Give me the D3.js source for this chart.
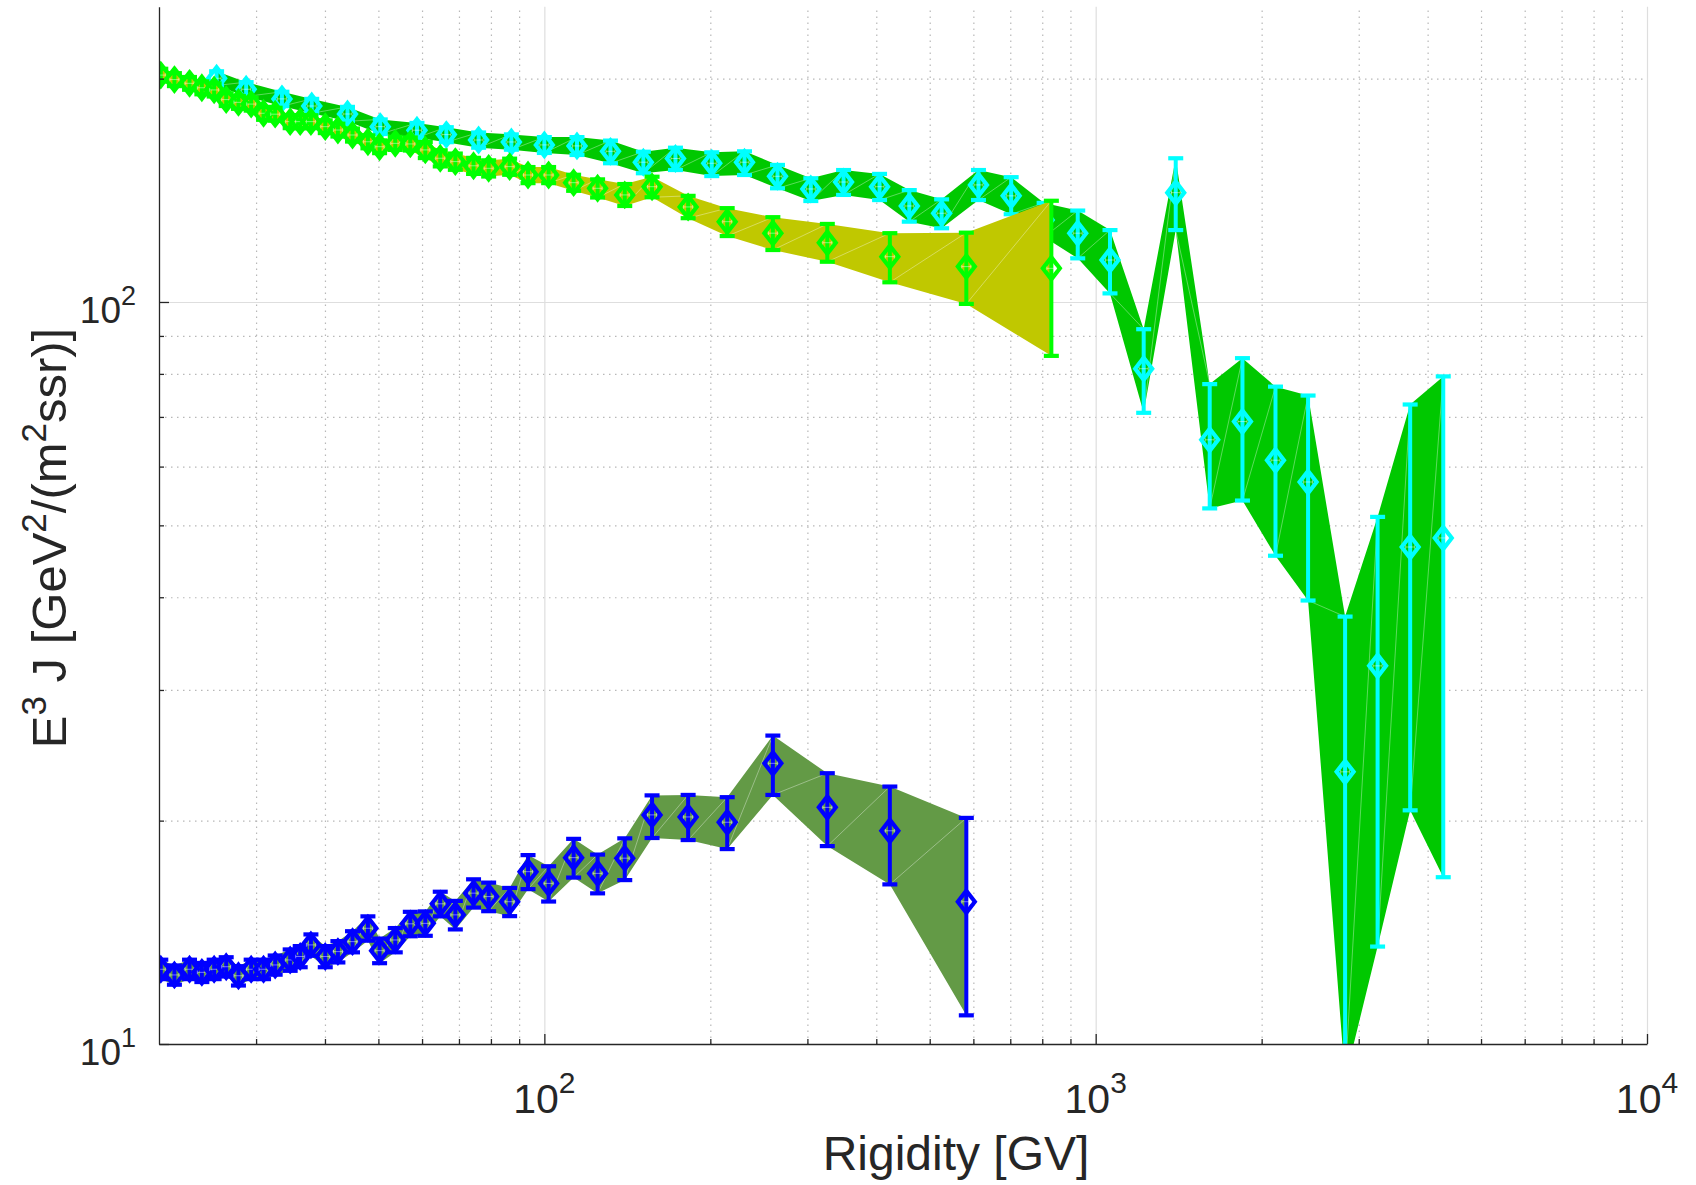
<!DOCTYPE html>
<meta charset="utf-8">
<style>
    body { margin: 0; background: #fff; }
    svg { font-family: 'Liberation Sans', Arial, Helvetica, sans-serif; }
    .grid path { display: none; }
    .grid-major line { stroke: #dedede; stroke-width: 1.2; }
    .grid-minor line { stroke: #b8b8b8; stroke-width: 1.2; stroke-dasharray: 1.5, 4.5; }
    .axis path, .axis line { stroke: #262626; stroke-width: 1.3; }
    .lbl { fill: #262626; }
</style>
<body>
<svg id="chart" width="1696" height="1185"></svg>
<script src="https://d3js.org/d3.v7.min.js"></script>
<script>

// ---- data ----
// rigidity bins shared by the blue and green series [GV]
var binsR = [20.15, 21.33, 22.72, 23.92, 25.18, 26.48, 27.87, 29.39, 30.95, 32.49,
    34.59, 36.07, 37.72, 40.05, 42.22, 44.88, 47.86, 50.25, 53.65, 57.13,
    60.82, 64.74, 68.95, 74.40, 79.24, 86.50, 93.41, 101.8, 113.0, 124.9,
    139.9, 156.8, 182.3, 214.6, 259.7, 326.0, 423.3, 582.6];

// green markers / yellow band
var greenR = binsR.concat([831]);
var greenY = [202.2, 199.4, 197.1, 194.4, 193.1, 187.4, 185.8, 184.8, 179.6, 179.1,
    175.0, 175.0, 175.0, 172.3, 170.5, 167.9, 164.4, 161.9, 163.6, 163.3,
    160.3, 156.2, 154.6, 152.6, 151.4, 152.2, 148.3, 148.3, 144.8, 142.3,
    139.4, 143.0, 134.3, 128.3, 123.8, 120.2, 115.1, 111.6, 111.0];
var greenLo = [4.0, 4.0, 3.9, 3.9, 3.9, 3.7, 3.7, 3.7, 3.6, 3.6,
    3.5, 3.5, 3.5, 3.4, 3.4, 3.4, 3.3, 3.2, 3.3, 3.3,
    4.0, 3.9, 3.9, 3.8, 3.8, 3.8, 3.7, 3.7, 3.6, 4.0,
    4.7, 4.6, 4.6, 5.6, 6.3, 6.9, 8.8, 12.2, 26.4];
var greenHi = [4.0, 4.0, 3.9, 3.9, 3.9, 3.7, 3.7, 3.7, 3.6, 3.6,
    3.5, 3.5, 3.5, 3.4, 3.4, 3.4, 3.3, 3.2, 3.3, 3.3,
    4.0, 3.9, 3.9, 3.8, 3.8, 3.8, 3.7, 3.7, 3.6, 4.0,
    4.8, 4.5, 4.7, 5.5, 6.3, 7.2, 8.7, 12.4, 25.9];

// blue markers / olive band
var blueR = binsR;
var blueY = [12.61, 12.39, 12.61, 12.49, 12.61, 12.71, 12.36, 12.61, 12.61, 12.78,
    12.98, 13.12, 13.60, 13.12, 13.32, 13.74, 14.32, 13.36, 13.81, 14.52,
    14.54, 15.45, 14.93, 15.97, 15.80, 15.55, 17.07, 16.46, 17.83, 16.98,
    17.80, 20.36, 20.23, 19.90, 23.89, 20.84, 19.38, 15.55];
var blueLo = [0.38, 0.37, 0.38, 0.37, 0.38, 0.38, 0.37, 0.38, 0.38, 0.38,
    0.43, 0.43, 0.45, 0.43, 0.44, 0.45, 0.54, 0.51, 0.52, 0.55,
    0.55, 0.59, 0.66, 0.70, 0.70, 0.68, 0.90, 0.90, 1.07, 1.02,
    1.17, 1.41, 1.40, 1.59, 2.23, 2.36, 2.97, 4.62];
var blueHi = [0.38, 0.37, 0.38, 0.37, 0.38, 0.38, 0.37, 0.38, 0.38, 0.38,
    0.43, 0.43, 0.45, 0.43, 0.44, 0.45, 0.54, 0.51, 0.52, 0.55,
    0.55, 0.59, 0.66, 0.70, 0.70, 0.68, 0.90, 0.90, 1.07, 1.02,
    1.13, 1.27, 1.43, 1.61, 2.15, 2.33, 2.85, 4.62];

// cyan markers / green band
var cyanR = [25.44, 28.78, 33.42, 37.85, 43.95, 50.39, 58.74, 66.40, 75.99, 87.13,
    100.0, 114.6, 131.8, 151.2, 172.9, 201.2, 230.7, 264.8, 304.3, 348.9,
    405.5, 459.1, 525.5, 612.9, 702.6, 806.3, 927.8, 1061.6, 1222, 1397,
    1610, 1846, 2119, 2428, 2834, 3246, 3719, 4270];
var cyanY = [200.2, 193.5, 187.8, 183.7, 179.2, 172.3, 170.4, 168.1, 165.3, 164.3,
    162.8, 162.3, 159.6, 154.3, 156.1, 153.8, 154.3, 147.7, 142.0, 145.1,
    143.0, 134.7, 131.7, 143.8, 139.0, 129.0, 123.8, 113.9, 81.3, 140.4,
    65.2, 69.0, 61.2, 57.2, 23.27, 32.33, 46.75, 48.08];
var cyanLo = [4.4, 4.3, 4.2, 4.1, 4.0, 3.9, 3.9, 3.9, 3.9, 3.9,
    4.0, 4.5, 5.8, 5.2, 5.5, 6.0, 6.0, 5.4, 5.2, 5.7,
    5.8, 6.4, 6.0, 6.6, 7.7, 6.7, 9.3, 11.2, 10.4, 15.4,
    12.5, 15.0, 15.7, 17.6, 14.3, 18.8, 26.1, 31.3];
var cyanHi = [4.4, 4.3, 4.2, 4.1, 4.0, 3.9, 3.9, 3.9, 3.9, 3.9,
    4.0, 4.5, 5.4, 5.1, 5.3, 5.3, 5.3, 5.3, 4.8, 5.5,
    5.8, 6.8, 5.8, 6.8, 8.3, 7.0, 9.0, 11.1, 10.6, 15.8,
    12.3, 15.0, 15.7, 17.6, 14.4, 19.0, 26.0, 31.3];

// axis ticks
var xMajor = [100, 1000, 10000];
var xMinor = [30, 40, 50, 60, 70, 80, 90, 200, 300, 400, 500, 600, 700, 800, 900,
    2000, 3000, 4000, 5000, 6000, 7000, 8000, 9000];
var yMajor = [10, 100];
var yMinor = [20, 30, 40, 50, 60, 70, 80, 90, 200];

// ---- layout ----
var svg = d3.select("#chart");
var pLeft = 159, pRight = 1647, pBottom = 1044, pTop = 6.7;

var x = d3.scaleLog().domain([20, 10000]).range([pLeft, pRight]);
var y = d3.scaleLog().domain([10, 250]).range([pBottom, pTop]);

svg.append("defs").append("clipPath").attr("id", "plotclip")
    .append("rect").attr("x", pLeft).attr("y", 0)
    .attr("width", pRight - pLeft).attr("height", pBottom);

// grid
svg.append("g").attr("class", "grid grid-minor")
    .attr("transform", "translate(0," + pBottom + ")")
    .call(d3.axisBottom(x).tickValues(xMinor).tickSize(-(pBottom - pTop)).tickFormat(""));
svg.append("g").attr("class", "grid grid-minor")
    .attr("transform", "translate(" + pLeft + ",0)")
    .call(d3.axisLeft(y).tickValues(yMinor).tickSize(-(pRight - pLeft)).tickFormat(""));
svg.append("g").attr("class", "grid grid-major")
    .attr("transform", "translate(0," + pBottom + ")")
    .call(d3.axisBottom(x).tickValues(xMajor).tickSize(-(pBottom - pTop)).tickFormat(""));
svg.append("g").attr("class", "grid grid-major")
    .attr("transform", "translate(" + pLeft + ",0)")
    .call(d3.axisLeft(y).tickValues([100]).tickSize(-(pRight - pLeft)).tickFormat(""));

var plot = svg.append("g").attr("clip-path", "url(#plotclip)");

function drawSeries(xs, ys, lo, hi, color, bandColor) {
    var pts = xs.map(function (d, i) {
        return { r: d, v: ys[i], lo: ys[i] - lo[i], hi: ys[i] + hi[i] };
    });
    var g = plot.append("g");

    // error band
    var area = d3.area()
        .x(function (d) { return x(d.r); })
        .y0(function (d) { return y(d.lo); })
        .y1(function (d) { return y(d.hi); });
    g.append("path").attr("d", area(pts)).attr("fill", bandColor);

    // faint triangle edges of the patch
    for (var i = 0; i < pts.length - 1; i++) {
        g.append("line")
            .attr("x1", x(pts[i].r)).attr("y1", y(pts[i].lo))
            .attr("x2", x(pts[i + 1].r)).attr("y2", y(pts[i + 1].hi))
            .attr("stroke", "#fff").attr("stroke-opacity", 0.45).attr("stroke-width", 0.8);
    }

    // error bars
    var eb = g.selectAll(".eb").data(pts).enter().append("g");
    eb.append("line")
        .attr("x1", function (d) { return x(d.r); })
        .attr("x2", function (d) { return x(d.r); })
        .attr("y1", function (d) { return y(d.lo); })
        .attr("y2", function (d) { return y(d.hi); })
        .attr("stroke", color).attr("stroke-width", 4);
    ["lo", "hi"].forEach(function (k) {
        eb.append("line")
            .attr("x1", function (d) { return x(d.r) - 7.5; })
            .attr("x2", function (d) { return x(d.r) + 7.5; })
            .attr("y1", function (d) { return y(d[k]); })
            .attr("y2", function (d) { return y(d[k]); })
            .attr("stroke", color).attr("stroke-width", 4.2);
    });

    // diamond markers
    var mk = g.selectAll(".mk").data(pts).enter().append("g")
        .attr("transform", function (d) { return "translate(" + x(d.r) + "," + y(d.v) + ")"; });
    mk.append("path").attr("d", "M0,-11L8.5,0L0,11L-8.5,0Z")
        .attr("fill", "none").attr("stroke", color).attr("stroke-width", 4.2);
    mk.append("path").attr("d", "M-4.5,0H4.5M-4.5,-1.8V1.8M4.5,-1.8V1.8")
        .attr("stroke", "#fff").attr("stroke-opacity", 0.5).attr("stroke-width", 0.9);
}

drawSeries(cyanR, cyanY, cyanLo, cyanHi, "#00ffff", "#00c800");
drawSeries(greenR, greenY, greenLo, greenHi, "#00ff00", "#c0c800");
drawSeries(blueR, blueY, blueLo, blueHi, "#0000ff", "#639a46");

// axes (ticks point inwards)
var xAx = svg.append("g").attr("class", "axis").attr("transform", "translate(0," + pBottom + ")");
xAx.call(d3.axisBottom(x).tickValues(xMinor).tickSize(-5).tickSizeOuter(0).tickFormat(""));
xAx.append("g").call(d3.axisBottom(x).tickValues(xMajor).tickSize(-10).tickSizeOuter(0).tickFormat(""))
    .select(".domain").remove();

var yAx = svg.append("g").attr("class", "axis").attr("transform", "translate(" + pLeft + ",0)");
yAx.call(d3.axisLeft(y).tickValues(yMinor).tickSize(-5).tickSizeOuter(0).tickFormat(""));
yAx.append("g").call(d3.axisLeft(y).tickValues(yMajor).tickSize(-10).tickSizeOuter(0).tickFormat(""))
    .select(".domain").remove();

// tick labels 10^n
svg.selectAll(".xlab").data(xMajor).enter().append("text")
    .attr("class", "lbl")
    .attr("x", function (d) { return x(d); })
    .attr("y", 1113)
    .attr("text-anchor", "middle")
    .style("font-size", "41px")
    .each(function (d) {
        var t = d3.select(this);
        t.append("tspan").text("10");
        t.append("tspan").attr("dy", -20).style("font-size", "30px").text(Math.round(Math.log10(d)));
    });

svg.selectAll(".ylab").data(yMajor).enter().append("text")
    .attr("class", "lbl")
    .attr("x", 136)
    .attr("y", function (d) { return y(d) + 21; })
    .attr("text-anchor", "end")
    .style("font-size", "37px")
    .each(function (d) {
        var t = d3.select(this);
        t.append("tspan").text("10");
        t.append("tspan").attr("dy", -18).style("font-size", "27px").text(Math.round(Math.log10(d)));
    });

// axis titles
svg.append("text").attr("class", "lbl")
    .attr("x", 956).attr("y", 1170)
    .attr("text-anchor", "middle")
    .style("font-size", "48px")
    .text("Rigidity [GV]");

var yt = svg.append("text").attr("class", "lbl")
    .attr("transform", "translate(66,538) rotate(-90)")
    .attr("text-anchor", "middle")
    .style("font-size", "49px");
yt.append("tspan").text("E");
yt.append("tspan").attr("dy", -20).style("font-size", "35px").text("3");
yt.append("tspan").attr("dy", 20).text(" J [GeV");
yt.append("tspan").attr("dy", -20).style("font-size", "35px").text("2");
yt.append("tspan").attr("dy", 20).text("/(m");
yt.append("tspan").attr("dy", -20).style("font-size", "35px").text("2");
yt.append("tspan").attr("dy", 20).text("ssr)]");

</script>
</body>
